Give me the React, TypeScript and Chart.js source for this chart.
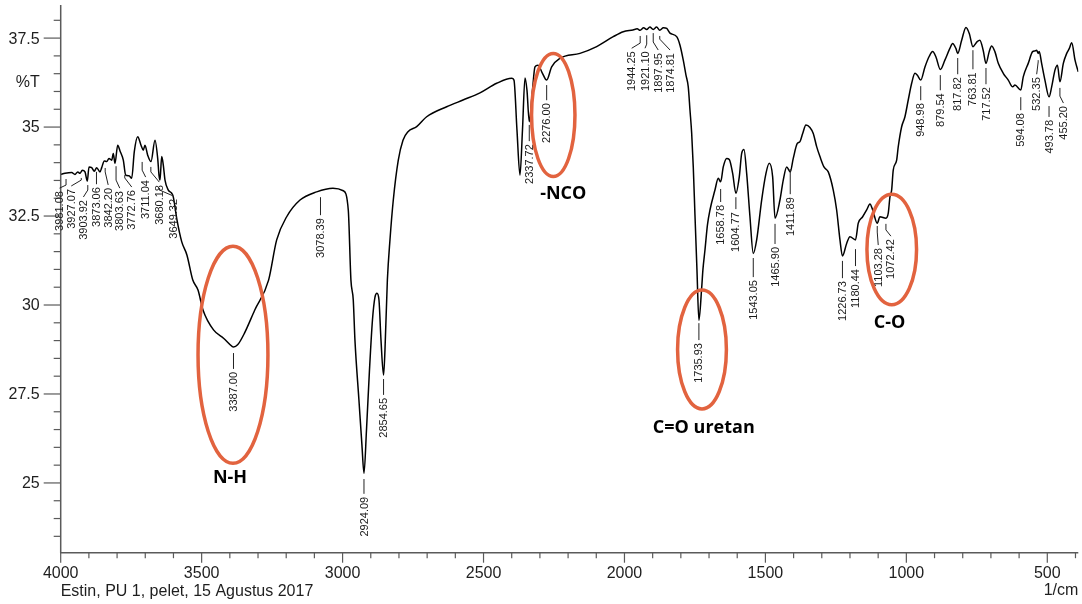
import React, { useEffect, useRef } from "react";
import { Chart, registerables } from "chart.js";

Chart.register(...registerables);

// Spectrum: wavenumber (1/cm) and transmittance (%T)
const wavenumbers = [
  4000, 3984.7, 3961, 3949.3, 3939.7, 3931.5, 3923.4, 3913.8, 3905.6, 3899.6,
  3890, 3880.8, 3872.3, 3860.6, 3854.6, 3845.3, 3836.8, 3828.7, 3819.1, 3813.4,
  3807.4, 3797.8, 3789.6, 3777.9, 3769.4, 3757.7, 3748.1, 3738.9, 3726.9, 3715.1,
  3707.0, 3701, 3691.4, 3679.7, 3665.5, 3655.9, 3651.3, 3647.8, 3641.7, 3636,
  3630, 3618.3, 3606.2, 3600.6, 3587.5, 3570.8, 3552, 3531.4, 3512.9, 3495.2,
  3457.9, 3421.4, 3391, 3387, 3372.5, 3348, 3311.5, 3262.5, 3233.8, 3198.3,
  3151, 3091.9, 3034.1, 2997.5, 2979.8, 2970.4, 2962.1, 2956.2, 2942, 2931.4,
  2924.09, 2915.2, 2904.6, 2894, 2885.1, 2878, 2870.9, 2863.8, 2854.65, 2849.6,
  2841.1, 2831.9, 2820.1, 2802.4, 2785.7, 2768, 2737.1, 2701.7, 2630.7, 2572.9,
  2512.6, 2453.3, 2400.1, 2392, 2381.4, 2370.7, 2361.8, 2352.9, 2345.9, 2337.7,
  2326.4, 2317.5, 2306.9, 2292.7, 2276, 2258.3, 2228.9, 2157.9, 2098.6, 2039.8,
  2004.3, 1970, 1955, 1944.25, 1932, 1921.1, 1910, 1897.95, 1886, 1874.81,
  1862, 1850, 1838.6, 1814.8, 1803, 1791.4, 1781.8, 1773.7, 1767.6, 1761.6,
  1755.9, 1749.9, 1742.8, 1735.93, 1726.1, 1721.6, 1714.5, 1705.6, 1696.7, 1679,
  1667.3, 1658.78, 1649.5, 1637.4, 1628.2, 1616.2, 1604.77, 1592.7, 1584.2, 1576.1,
  1566.5, 1554.8, 1543.05, 1531, 1513.3, 1498, 1486.3, 1474.3, 1465.9, 1448.4,
  1436.7, 1424.5, 1411.89, 1401.2, 1386.9, 1377.4, 1367.8, 1356.2, 1342, 1330.2,
  1318.2, 1306.5, 1292.3, 1277, 1259.3, 1247.3, 1235.5, 1226.73, 1211.8, 1200.1,
  1180.44, 1170.6, 1155, 1140.8, 1129.1, 1119.5, 1103.28, 1093.6, 1072.42, 1064.2,
  1058.2, 1052.2, 1046.5, 1034.4, 1028.7, 1016.7, 1005, 993.3, 981.2, 969.5,
  961.3, 948.98, 934, 918.7, 906.7, 895, 879.54, 863.3, 845.6, 835.8,
  824.2, 817.82, 803.8, 788.5, 776.7, 763.81, 748.8, 739.2, 727.5, 717.52,
  706.1, 697.5, 685.9, 673.9, 656.2, 638.4, 622.9, 614.8, 594.08, 585.3,
  567.6, 552, 543.8, 537.8, 532.35, 528.6, 520.1, 508.4, 493.78, 484.5,
  472.8, 464, 455.2, 443.1, 431.1, 421.8, 413.3, 401.6, 390,
];

const transmittance = [
  33.67, 33.7, 33.72, 33.67, 33.74, 33.7, 33.79, 33.74, 33.48, 33.88,
  33.86, 33.76, 33.86, 33.74, 33.86, 34.05, 34.03, 34.12, 34.07, 34.26,
  33.98, 34.49, 34.33, 34.07, 33.65, 33.63, 33.56, 34.31, 34.73, 34.49,
  34.35, 34.49, 34.21, 34.03, 34.63, 34.12, 33.65, 33.51, 34.17, 33.93,
  33.51, 33.23, 33.14, 33.04, 32.39, 31.78, 31.4, 30.7, 30.42, 29.86,
  29.3, 29.06, 28.83, 28.82, 28.88, 29.21, 29.86, 30.7, 31.83, 32.48,
  32.95, 33.18, 33.28, 33.21, 32.67, 30.7, 30.14, 29.02, 27.33, 26.07,
  25.27, 26.49, 28.17, 29.58, 30.22, 30.33, 30.14, 29.02, 28.03, 28.74,
  30.7, 31.83, 32.95, 34.07, 34.63, 34.87, 35.01, 35.29, 35.57, 35.76,
  35.96, 36.23, 36.37, 36.32, 34.92, 33.65, 34.92, 36.38, 36.04, 35.15,
  36.04, 36.69, 36.74, 36.54, 36.32, 36.69, 36.93, 37.07, 37.26, 37.54,
  37.68, 37.73, 37.76, 37.72, 37.79, 37.74, 37.81, 37.74, 37.81, 37.72,
  37.79, 37.77, 37.64, 37.54, 37.3, 36.88, 36.46, 36.13, 35.48, 34.83,
  33.88, 32.53, 30.98, 29.57, 30.48, 31.0, 31.54, 32.25, 32.67, 33.23,
  33.56, 33.46, 33.88, 34.12, 34.09, 33.7, 33.14, 33.6, 34.26, 34.37,
  33.7, 32.48, 31.45, 31.83, 32.95, 33.7, 33.98, 33.6, 32.44, 32.95,
  33.51, 33.88, 33.74, 34.12, 34.54, 34.59, 34.82, 35.06, 34.99, 34.82,
  34.45, 34.17, 33.88, 33.74, 33.23, 32.67, 31.83, 31.38, 31.73, 31.92,
  31.83, 32.3, 32.48, 32.67, 32.84, 32.67, 32.3, 32.48, 32.44, 32.58,
  33.04, 33.23, 33.79, 34.07, 34.45, 35.01, 35.29, 35.76, 36.23, 36.51,
  36.46, 36.32, 36.69, 36.99, 37.12, 36.97, 36.62, 36.88, 37.21, 37.35,
  37.21, 37.07, 37.44, 37.8, 37.63, 37.26, 37.4, 37.44, 37.16, 36.79,
  37.12, 37.28, 37.12, 36.79, 36.51, 36.32, 36.13, 36.18, 36.04, 36.41,
  36.79, 37.12, 37.14, 37.16, 37.07, 37.12, 36.79, 36.32, 35.85, 36.13,
  36.6, 36.74, 36.27, 36.79, 37.07, 37.21, 37.37, 36.88, 36.55,
];

// Axis ticks
const xMajorTicks = [4000, 3500, 3000, 2500, 2000, 1500, 1000, 500];
const yMajorTicks = [25, 27.5, 30, 32.5, 35, 37.5];

// Peak annotations
const peakValues = [
  3981.08, 3927.07, 3903.92, 3873.06, 3842.2, 3803.63, 3772.76, 3711.04, 3680.18, 3649.32,
  3387.0, 3078.39, 2924.09, 2854.65, 2337.72, 2276.0, 1944.25, 1921.1, 1897.95, 1874.81,
  1735.93, 1658.78, 1604.77, 1543.05, 1465.9, 1411.89, 1226.73, 1180.44, 1103.28, 1072.42,
  948.98, 879.54, 817.82, 763.81, 717.52, 594.08, 532.35, 493.78, 455.2,
];
// [leader start %T, bend %T (or null), text top %T, text x shift px]
const peakLayout: [number, number | null, number, number][] = [
  [33.54, 33.37, 33.2, -6.5], [33.57, 33.51, 33.26, -10], [33.37, 33.23, 32.95, -4.4],
  [33.74, null, 33.31, 0], [33.85, 33.74, 33.29, 3], [33.9, 33.51, 33.2, 3.7],
  [33.65, 33.57, 33.23, 7], [34.02, 33.79, 33.51, 3.5], [33.88, 33.74, 33.37, 8.4],
  [33.29, 33.23, 32.98, 13.7],
  [28.65, null, 28.12, 0], [33.03, null, 32.44, 0], [25.11, null, 24.61, 0], [27.92, null, 27.39, 0],
  [35.06, null, 34.52, 0], [36.18, null, 35.67, 0],
  [37.56, 37.36, 37.13, -8.5], [37.58, 37.33, 37.13, -1.7], [37.64, 37.39, 37.08, 5],
  [37.56, 37.47, 37.08, 10.3],
  [29.49, null, 28.93, 0], [33.26, null, 32.81, 0], [33.03, null, 32.61, 0], [31.32, null, 30.7, 0],
  [32.28, null, 31.63, 0], [33.82, null, 33.03, 0], [31.24, null, 30.67, 0], [31.57, null, 31.01, 0],
  [32.22, 32.05, 31.6, 1], [32.28, 32.11, 31.85, 5],
  [36.15, null, 35.67, 0], [36.46, null, 35.95, 0], [36.94, null, 36.4, 0], [37.16, null, 36.54, 0],
  [36.66, null, 36.12, 0], [35.84, null, 35.39, 0], [36.88, 36.83, 36.4, -1.5], [35.59, null, 35.2, 0],
  [36.1, 35.87, 35.59, 3.5],
];

// Highlighted bands: ellipse centre (1/cm, %T), radii (1/cm, %T)
const bandNames = ["N-H", "-NCO", "C=O uretan", "C-O"];
const bandCentres: [number, number][] = [[3388.8, 28.6], [2252.6, 35.34], [1725, 28.75], [1051.8, 31.56]];
const bandRadii: [number, number][] = [[124, 3.05], [77, 1.73], [86.6, 1.67], [88, 1.55]];
const bandLabelPos: [number, number][] = [[3399.4, 25.15], [2217.1, 33.11], [1718.7, 26.55], [1059.9, 29.5]];

const FONT = '"Liberation Sans", Arial, sans-serif';
const AXIS_COLOR = "#5a5a5a";
const RED = "#E2633F";

const overlayPlugin = {
  id: "ftirOverlay",
  afterDatasetsDraw(chart: any) {
    const { ctx, chartArea: a, scales } = chart;
    const xs = scales.x;
    const ys = scales.y;
    ctx.save();

    // axes lines
    ctx.strokeStyle = AXIS_COLOR;
    ctx.lineWidth = 1.5;
    ctx.beginPath();
    ctx.moveTo(a.left, a.top);
    ctx.lineTo(a.left, a.bottom);
    ctx.lineTo(a.right, a.bottom);
    ctx.stroke();

    // y ticks
    ctx.lineWidth = 1.2;
    ctx.fillStyle = "#1e1e1e";
    ctx.font = `16px ${FONT}`;
    ctx.textAlign = "right";
    ctx.textBaseline = "middle";
    for (let i = 47; i <= 76; i++) {
      const v = i / 2;
      const y = ys.getPixelForValue(v);
      const major = yMajorTicks.includes(v);
      ctx.beginPath();
      ctx.moveTo(a.left - (major ? 17 : 7), y);
      ctx.lineTo(a.left, y);
      ctx.stroke();
      if (major) ctx.fillText(String(v), a.left - 21, y + 1);
    }
    // x ticks
    ctx.textAlign = "center";
    for (let w = 400; w <= 4000; w += 100) {
      const x = xs.getPixelForValue(w);
      const major = xMajorTicks.includes(w);
      ctx.beginPath();
      ctx.moveTo(x, a.bottom);
      ctx.lineTo(x, a.bottom + (major ? 10 : 5.5));
      ctx.stroke();
      if (major) ctx.fillText(String(w), x, a.bottom + 21);
    }
    // axis titles
    ctx.fillText("%T", a.left - 33, ys.getPixelForValue(36.24));
    ctx.textAlign = "left";
    ctx.fillText("Estin, PU 1, pelet, 15 Agustus 2017", a.left, a.bottom + 39);
    ctx.textAlign = "right";
    ctx.fillText("1/cm", a.right, a.bottom + 38);

    // peak labels
    ctx.strokeStyle = "#222";
    ctx.fillStyle = "#1a1a1a";
    ctx.lineWidth = 1;
    ctx.font = `11px ${FONT}`;
    peakValues.forEach((p, i) => {
      const [lead, bend, top, dx] = peakLayout[i];
      const x = xs.getPixelForValue(p);
      const tx = x + dx;
      const y0 = ys.getPixelForValue(lead);
      const ty = ys.getPixelForValue(top);
      ctx.beginPath();
      ctx.moveTo(x, y0);
      if (bend !== null) {
        ctx.lineTo(x, ys.getPixelForValue(bend));
      }
      ctx.lineTo(tx, ty - 3);
      ctx.stroke();
      ctx.save();
      ctx.translate(tx, ty);
      ctx.rotate(-Math.PI / 2);
      ctx.textAlign = "right";
      ctx.textBaseline = "middle";
      ctx.fillText(p.toFixed(2), 0, 0.5);
      ctx.restore();
    });

    // highlighted bands
    ctx.strokeStyle = RED;
    ctx.lineWidth = 3.5;
    bandCentres.forEach(([cw, ct], i) => {
      const cx = xs.getPixelForValue(cw);
      const cy = ys.getPixelForValue(ct);
      const rx = Math.abs(xs.getPixelForValue(cw - bandRadii[i][0]) - cx);
      const ry = Math.abs(ys.getPixelForValue(ct + bandRadii[i][1]) - cy);
      ctx.beginPath();
      ctx.ellipse(cx, cy, rx, ry, 0, 0, Math.PI * 2);
      ctx.stroke();
    });
    ctx.fillStyle = "#000";
    ctx.font = `bold 18px "Open Sans", "DejaVu Sans", sans-serif`;
    ctx.textAlign = "center";
    ctx.textBaseline = "middle";
    bandNames.forEach((name, i) => {
      const [lw, lt] = bandLabelPos[i];
      ctx.fillText(name, xs.getPixelForValue(lw), ys.getPixelForValue(lt));
    });

    ctx.restore();
  },
};

export default function App() {
  const canvasRef = useRef<HTMLCanvasElement | null>(null);

  useEffect(() => {
    if (!canvasRef.current) return;
    const points = wavenumbers.map((w, i) => ({ x: w, y: transmittance[i] }));
    const chart = new Chart(canvasRef.current, {
      type: "line",
      data: {
        datasets: [
          {
            label: "%T",
            data: points,
            borderColor: "#000",
            borderWidth: 1.5,
            pointRadius: 0,
            cubicInterpolationMode: "monotone",
            fill: false,
          },
        ],
      },
      options: {
        animation: false,
        responsive: false,
        maintainAspectRatio: false,
        layout: { padding: { left: 60.7, right: 3.7, top: 5, bottom: 51.3 } },
        plugins: { legend: { display: false }, tooltip: { enabled: false } },
        scales: {
          x: { type: "linear", min: 390, max: 4000, reverse: true, display: false },
          y: { type: "linear", min: 23.04, max: 38.43, display: false },
        },
      },
      plugins: [overlayPlugin],
    });
    return () => chart.destroy();
  }, []);

  return (
    <div style={{ position: "absolute", left: 0, top: 0, width: 1082, height: 604, background: "#fff" }}>
      <canvas ref={canvasRef} width={1082} height={604} style={{ display: "block" }} />
    </div>
  );
}
